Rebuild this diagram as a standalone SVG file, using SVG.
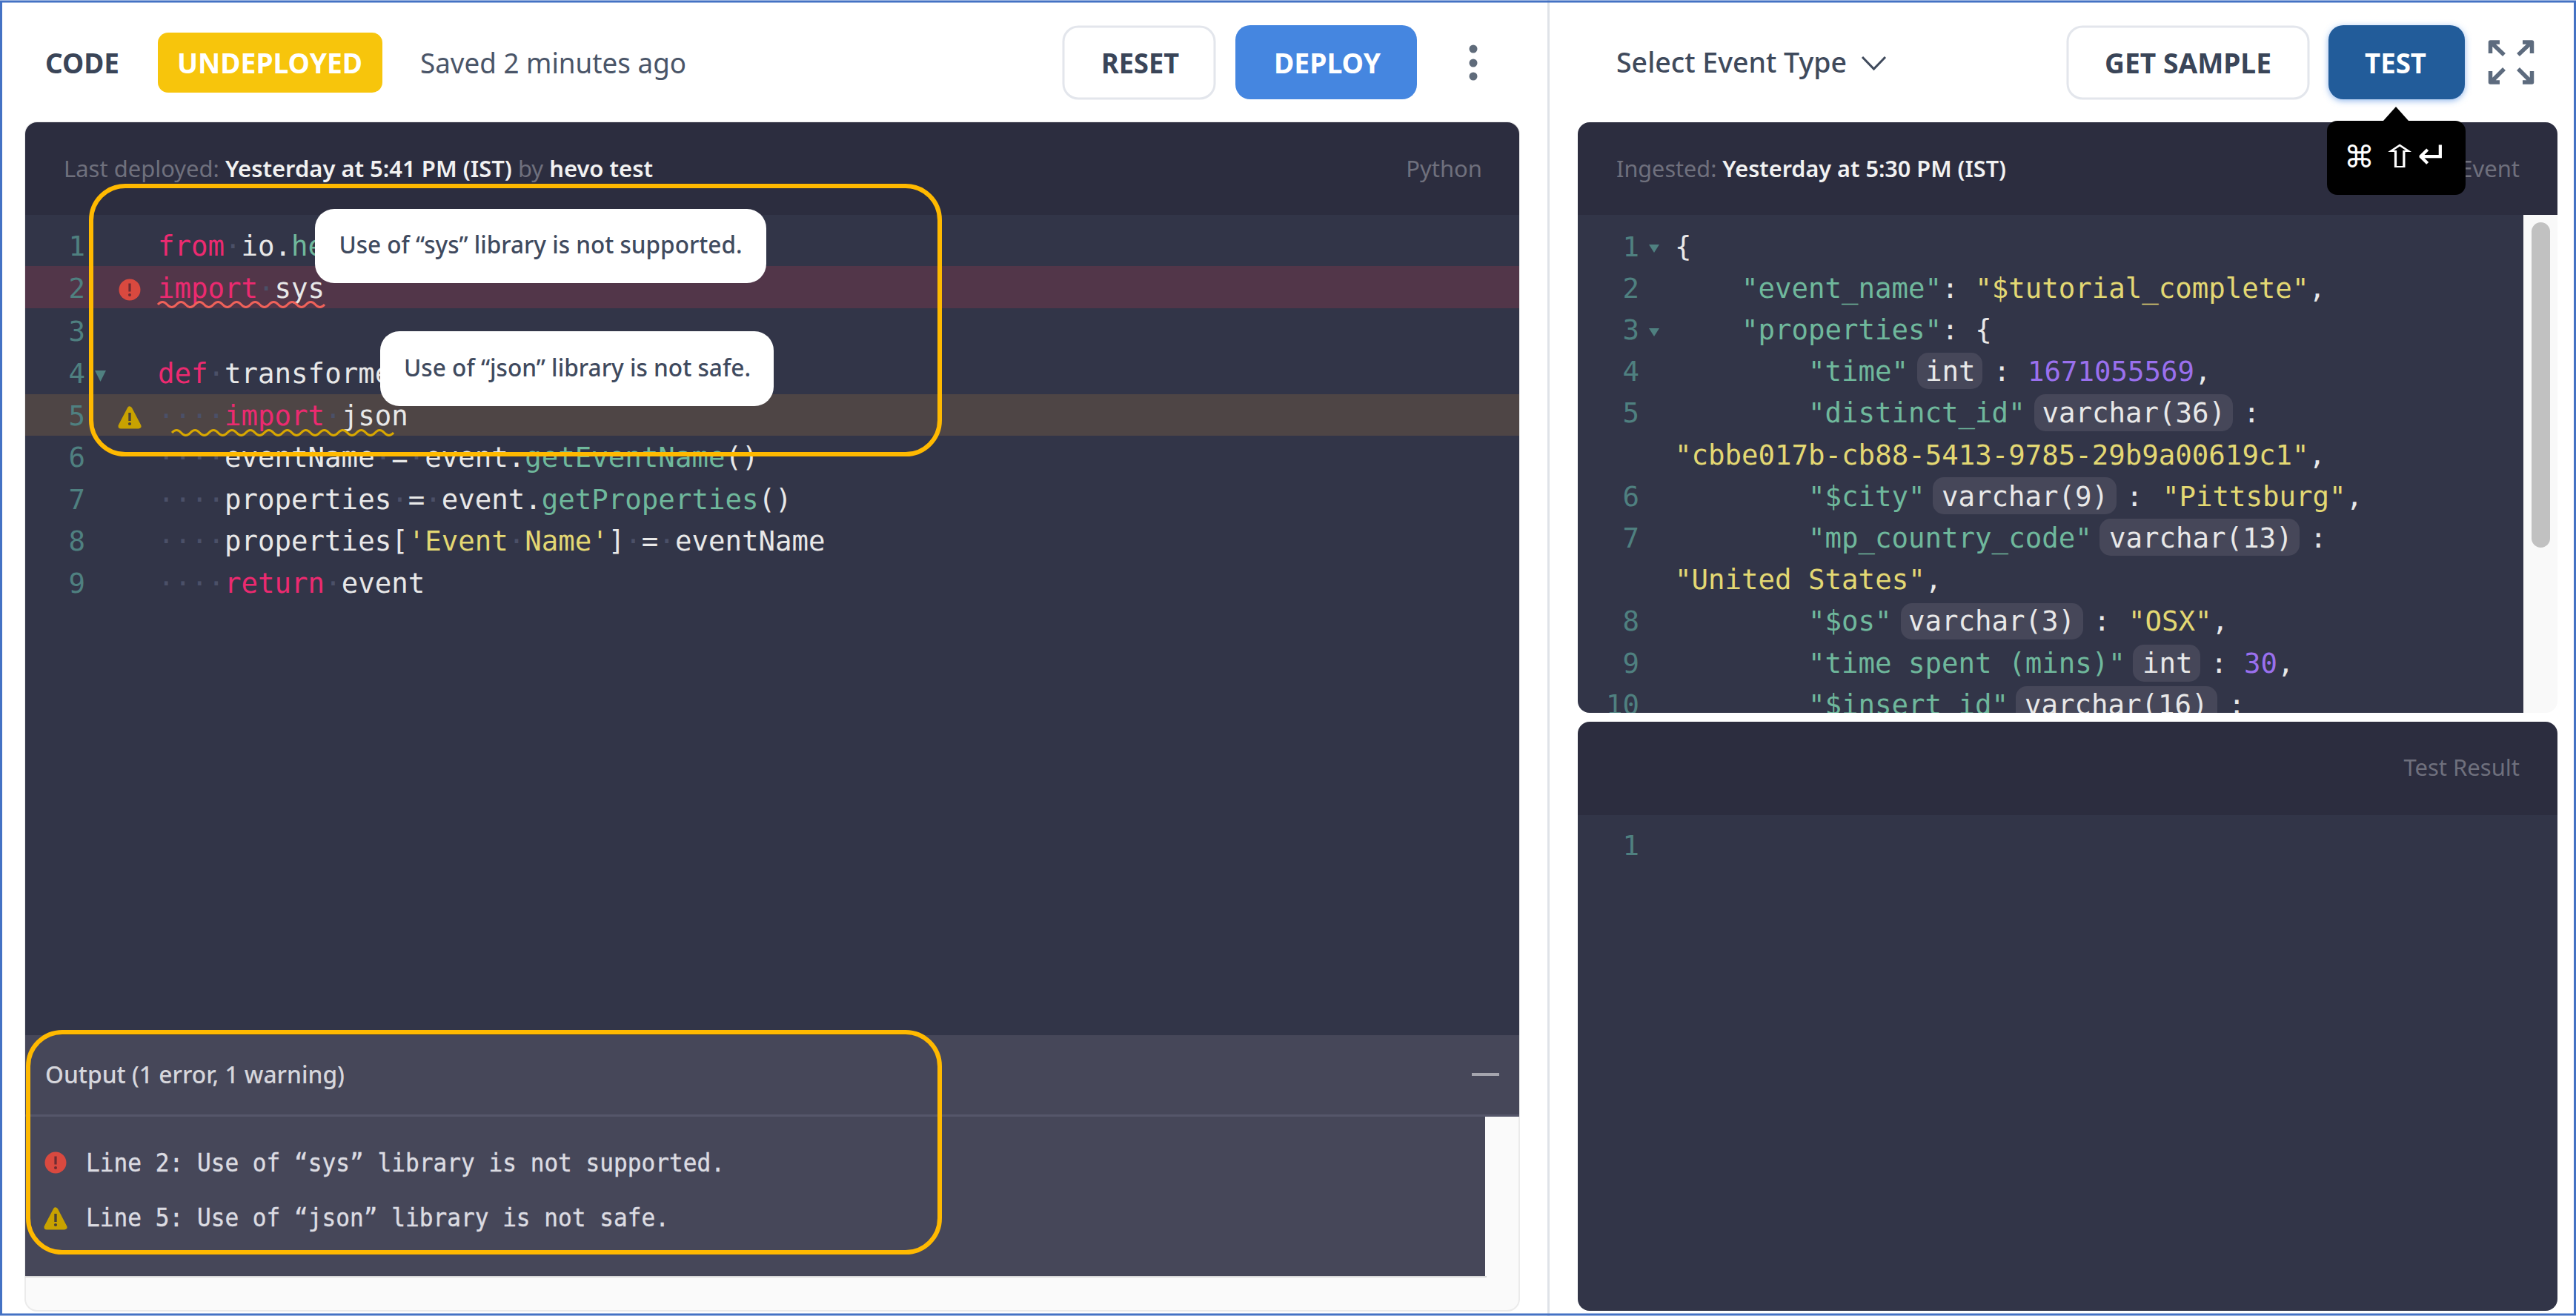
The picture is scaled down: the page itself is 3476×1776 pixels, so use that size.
<svg xmlns="http://www.w3.org/2000/svg" width="3476" height="1776" viewBox="0 0 3476 1776">
<style>
text{white-space:pre}
.s{font-family:"Noto Sans","Open Sans","Liberation Sans",sans-serif}
.m{font-family:"DejaVu Sans Mono","Liberation Mono",monospace;font-size:37.4px;fill:#e8e8e8}
.b{font-size:38px;font-weight:700}
.h{font-size:31px;fill:#6f707d}
.hw{font-size:31px;fill:#f2f2f2;font-weight:600}
.n{fill:#4f8080}
.k{fill:#ec2a70}
.g{fill:#6fb89c}
.y{fill:#e3d873}
.p{fill:#9a70ee}
.d{fill:#4b5068}
.pill{fill:#464759}
.tip{fill:#fff}
.tt{font-size:32px;font-weight:500;fill:#3f4a5e}
.box{fill:none;stroke:#ffb900;stroke-width:6}
.btn{fill:#fff;stroke:#e3e6ec;stroke-width:3}
.ol{font-family:"DejaVu Sans Mono","Liberation Mono",monospace;font-size:33px;fill:#dcdce2;stroke:#dcdce2;stroke-width:.4}
.ar{fill:none;stroke:#5d6b7e;stroke-width:5.500;stroke-linejoin:round}
</style>
<defs>
<g id="err"><circle r="14.5" fill="#d9493f"/><rect x="-1.6" y="-8.5" width="3.2" height="11" fill="#6e2c33"/><circle cy="7" r="2" fill="#6e2c33"/></g>
<g id="warn"><path d="M0 -12 L12 11 H-12 Z" fill="#c8a200" stroke="#c8a200" stroke-width="7" stroke-linejoin="round"/><rect x="-1.7" y="-7" width="3.4" height="11" fill="#4a4238"/><circle cy="8" r="2.1" fill="#4a4238"/></g>
<clipPath id="cu"><rect x="2129" y="165" width="1276" height="797"/></clipPath>
<filter id="gl" x="-20%" y="-20%" width="140%" height="150%"><feDropShadow dx="0" dy="2" stdDeviation="4" flood-color="#4a86e0" flood-opacity=".6"/></filter>
</defs>
<rect width="3476" height="1776" fill="#fff"/>
<rect x="2088" y="0" width="3" height="1776" fill="#dfe3e8"/>

<g id="left-toolbar">
<text class="s b" x="61" y="98.5" fill="#3a4558" textLength="100" lengthAdjust="spacingAndGlyphs">CODE</text>
<rect x="213" y="44" width="303" height="81" rx="14" fill="#f7c50c"/>
<text class="s b" x="239" y="98.5" fill="#fff" textLength="250" lengthAdjust="spacingAndGlyphs">UNDEPLOYED</text>
<text class="s" x="567" y="98.5" font-size="38" fill="#4a5568" textLength="359" lengthAdjust="spacingAndGlyphs">Saved 2 minutes ago</text>
<rect class="btn" x="1435" y="36" width="204" height="97" rx="20"/>
<text class="s b" x="1486" y="98.5" fill="#3a4558" textLength="105" lengthAdjust="spacingAndGlyphs">RESET</text>
<rect x="1667" y="34" width="245" height="100" rx="20" fill="#4586e0"/>
<text class="s b" x="1719" y="98.5" fill="#fff" textLength="144" lengthAdjust="spacingAndGlyphs">DEPLOY</text>
<circle cx="1988" cy="66" r="5.5" fill="#5f6b7a"/><circle cx="1988" cy="85" r="5.5" fill="#5f6b7a"/><circle cx="1988" cy="103" r="5.5" fill="#5f6b7a"/>
</g>

<g id="code-panel">
<rect x="34" y="165" width="2016" height="1604" rx="16" fill="#fafafa" stroke="#ebebeb" stroke-width="2"/>
<path d="M34 290V181a16 16 0 0 1 16-16H2034a16 16 0 0 1 16 16V290Z" fill="#2c2d3f"/>
<rect x="34" y="290" width="2016" height="1107" fill="#323548"/>
<rect x="34" y="359" width="2016" height="57" fill="#523649"/>
<rect x="34" y="532" width="2016" height="56" fill="#4e4545"/>
<text class="s h" x="86" y="239" textLength="795" lengthAdjust="spacingAndGlyphs">Last deployed: <tspan class="hw">Yesterday at 5:41 PM (IST)</tspan> by <tspan class="hw">hevo test</tspan></text>
<text class="s h" x="2000" y="239" text-anchor="end">Python</text>
<text class="m n" x="115" y="345" text-anchor="end">1</text>
<text class="m n" x="115" y="402" text-anchor="end">2</text>
<text class="m n" x="115" y="459.500" text-anchor="end">3</text>
<text class="m n" x="115" y="517" text-anchor="end">4</text>
<text class="m n" x="115" y="573.500" text-anchor="end">5</text>
<text class="m n" x="115" y="630" text-anchor="end">6</text>
<text class="m n" x="115" y="686.500" text-anchor="end">7</text>
<text class="m n" x="115" y="743" text-anchor="end">8</text>
<text class="m n" x="115" y="800" text-anchor="end">9</text>
<path d="M128 500H143L135.500 515Z" fill="#4f8080"/>
<use href="#err" x="175" y="391"/>
<use href="#warn" x="175" y="564"/>
<text class="m" x="213" y="345"><tspan class="k">from</tspan><tspan class="d">·</tspan>io.<tspan class="g">he</tspan></text>
<text class="m" x="213" y="402"><tspan class="k">import</tspan><tspan class="d">·</tspan>sys</text>
<path d="M213 411q6.250-7 12.500 0t12.500 0t12.500 0t12.500 0t12.500 0t12.500 0t12.500 0t12.500 0t12.500 0t12.500 0t12.500 0t12.500 0t12.500 0t12.500 0t12.500 0t12.500 0t12.500 0t12.500 0" fill="none" stroke="#f0625a" stroke-width="3"/>
<text class="m" x="213" y="517"><tspan class="k">def</tspan><tspan class="d">·</tspan>transforme</text>
<text class="m" x="213" y="573.500"><tspan class="d">····</tspan><tspan class="k">import</tspan><tspan class="d">·</tspan>json</text>
<path d="M232 584q6.230-7 12.460 0t12.460 0t12.460 0t12.460 0t12.460 0t12.460 0t12.460 0t12.460 0t12.460 0t12.460 0t12.460 0t12.460 0t12.460 0t12.460 0t12.460 0t12.460 0t12.460 0t12.460 0t12.460 0t12.460 0t12.460 0t12.460 0t12.460 0t12.460 0" fill="none" stroke="#d9a800" stroke-width="3"/>
<text class="m" x="213" y="630"><tspan class="d">····</tspan>eventName<tspan class="d">·</tspan>=<tspan class="d">·</tspan>event.<tspan class="g">getEventName</tspan>()</text>
<text class="m" x="213" y="686.500"><tspan class="d">····</tspan>properties<tspan class="d">·</tspan>=<tspan class="d">·</tspan>event.<tspan class="g">getProperties</tspan>()</text>
<text class="m" x="213" y="743"><tspan class="d">····</tspan>properties[<tspan class="y">'Event<tspan class="d">·</tspan>Name'</tspan>]<tspan class="d">·</tspan>=<tspan class="d">·</tspan>eventName</text>
<text class="m" x="213" y="800"><tspan class="d">····</tspan><tspan class="k">return</tspan><tspan class="d">·</tspan>event</text>
</g>

<g id="tooltip-sys">
<rect class="tip" x="425" y="282" width="609" height="100" rx="26"/>
<text class="s tt" x="457.500" y="342" textLength="544" lengthAdjust="spacingAndGlyphs">Use of “sys” library is not supported.</text>
</g>
<g id="tooltip-json">
<rect class="tip" x="513" y="447" width="531" height="101" rx="26"/>
<text class="s tt" x="545" y="508" textLength="468" lengthAdjust="spacingAndGlyphs">Use of “json” library is not safe.</text>
</g>

<g id="output-panel">
<rect x="34" y="1397" width="2016" height="110" fill="#464759"/>
<rect x="34" y="1507" width="1970" height="215" fill="#464759"/>
<rect x="34" y="1504" width="2016" height="3" fill="#55566a"/>
<rect x="34" y="1722" width="1972" height="2" fill="#d8d8d8"/>
<text class="s" x="61" y="1462" font-size="32" font-weight="500" fill="#d6d6dc" textLength="404" lengthAdjust="spacingAndGlyphs">Output (1 error, 1 warning)</text>
<rect x="1986" y="1448" width="37" height="4" fill="#a5a5ae"/>
<use href="#err" x="75" y="1569"/>
<use href="#warn" x="75" y="1645"/>
<text class="ol" x="116" y="1581" textLength="862" lengthAdjust="spacingAndGlyphs">Line 2: Use of “sys” library is not supported.</text>
<text class="ol" x="116" y="1655" textLength="787" lengthAdjust="spacingAndGlyphs">Line 5: Use of “json” library is not safe.</text>
</g>

<g id="highlight-boxes">
<rect class="box" x="123" y="251" width="1145" height="362" rx="46"/>
<rect class="box" x="38" y="1393" width="1230" height="297" rx="46"/>
</g>

<g id="right-toolbar">
<text class="s" x="2181" y="97.500" font-size="38" font-weight="500" fill="#3f4a5c" textLength="311" lengthAdjust="spacingAndGlyphs">Select Event Type</text>
<path d="M2513 77L2528.500 93L2544 77" fill="none" stroke="#3f4a5c" stroke-width="3"/>
<rect class="btn" x="2790" y="36" width="325" height="97" rx="20"/>
<text class="s b" x="2840" y="98.500" fill="#3a4558" textLength="225" lengthAdjust="spacingAndGlyphs">GET SAMPLE</text>
<rect x="3142" y="34" width="184" height="100" rx="20" fill="#215b9a" filter="url(#gl)"/>
<text class="s b" x="3191" y="98.500" fill="#fff" textLength="83" lengthAdjust="spacingAndGlyphs">TEST</text>
<path class="ar" d="M3360.500 72V57H3373M3361 57L3379 74M3416.500 72V57H3404M3416 57L3398 74M3360.500 96V111H3373M3361 111L3379 93M3416.500 96V111H3404M3416 111L3398 93"/>
</g>

<g id="ingested-panel">
<path d="M2129 946V181a16 16 0 0 1 16-16H3435a16 16 0 0 1 16 16V946a16 16 0 0 1-16 16H2145a16 16 0 0 1-16-16Z" fill="#f9f9f9"/>
<path d="M2129 290V181a16 16 0 0 1 16-16H3435a16 16 0 0 1 16 16V290Z" fill="#2c2d3f"/>
<path d="M2129 290H3405V962H2145a16 16 0 0 1-16-16Z" fill="#323548"/>
<rect x="3416" y="300" width="25" height="439" rx="12.500" fill="#c1c1c1"/>
<text class="s h" x="2181" y="239" textLength="526" lengthAdjust="spacingAndGlyphs">Ingested: <tspan class="hw">Yesterday at 5:30 PM (IST)</tspan></text>
<text class="s h" x="3400" y="239" text-anchor="end">Event</text>
<g clip-path="url(#cu)">
<text class="m n" x="2212" y="345.500" text-anchor="end">1</text>
<text class="m n" x="2212" y="401.700" text-anchor="end">2</text>
<text class="m n" x="2212" y="457.900" text-anchor="end">3</text>
<text class="m n" x="2212" y="514.100" text-anchor="end">4</text>
<text class="m n" x="2212" y="570.300" text-anchor="end">5</text>
<text class="m n" x="2212" y="682.700" text-anchor="end">6</text>
<text class="m n" x="2212" y="738.900" text-anchor="end">7</text>
<text class="m n" x="2212" y="851.300" text-anchor="end">8</text>
<text class="m n" x="2212" y="907.500" text-anchor="end">9</text>
<text class="m n" x="2212" y="963.700" text-anchor="end">10</text>
<path d="M2225 330H2239L2232 341Z" fill="#4f8080"/>
<path d="M2225 443H2239L2232 454Z" fill="#4f8080"/>
<text class="m" x="2260" y="345.500">{</text>
<text class="m" x="2350" y="401.700"><tspan class="g">"event_name"</tspan>: <tspan class="y">"$tutorial_complete"</tspan>,</text>
<text class="m" x="2350" y="457.900"><tspan class="g">"properties"</tspan>: {</text>
<rect class="pill" x="2587" y="476" width="88" height="49" rx="15"/>
<text class="m g" x="2440" y="514.100">"time"</text>
<text class="m" x="2598" y="514.100">int</text>
<text class="m" x="2690" y="514.100">:</text>
<text class="m p" x="2736" y="514.100">1671055569<tspan fill="#e8e8e8">,</tspan></text>
<rect class="pill" x="2745" y="532" width="268" height="50" rx="15"/>
<text class="m g" x="2440" y="570.300">"distinct_id"</text>
<text class="m" x="2755.500" y="570.300">varchar(36)</text>
<text class="m" x="3027" y="570.300">:</text>
<text class="m y" x="2260" y="626.500">"cbbe017b-cb88-5413-9785-29b9a00619c1"<tspan fill="#e8e8e8">,</tspan></text>
<rect class="pill" x="2608" y="644" width="248" height="50" rx="15"/>
<text class="m g" x="2440" y="682.700">"$city"</text>
<text class="m" x="2620" y="682.700">varchar(9)</text>
<text class="m" x="2869" y="682.700">:</text>
<text class="m y" x="2918" y="682.700">"Pittsburg"<tspan fill="#e8e8e8">,</tspan></text>
<rect class="pill" x="2833" y="700" width="270" height="50" rx="15"/>
<text class="m g" x="2440" y="738.900">"mp_country_code"</text>
<text class="m" x="2846" y="738.900">varchar(13)</text>
<text class="m" x="3117" y="738.900">:</text>
<text class="m y" x="2260" y="795.100">"United States"<tspan fill="#e8e8e8">,</tspan></text>
<rect class="pill" x="2565" y="814" width="246" height="49" rx="15"/>
<text class="m g" x="2440" y="851.300">"$os"</text>
<text class="m" x="2575" y="851.300">varchar(3)</text>
<text class="m" x="2825" y="851.300">:</text>
<text class="m y" x="2872" y="851.300">"OSX"<tspan fill="#e8e8e8">,</tspan></text>
<rect class="pill" x="2878" y="870" width="91" height="50" rx="15"/>
<text class="m g" x="2440" y="907.500">"time spent (mins)"</text>
<text class="m" x="2891" y="907.500">int</text>
<text class="m" x="2983" y="907.500">:</text>
<text class="m p" x="3028" y="907.500">30<tspan fill="#e8e8e8">,</tspan></text>
<rect class="pill" x="2720" y="926" width="272" height="50" rx="15"/>
<text class="m g" x="2440" y="963.700">"$insert_id"</text>
<text class="m" x="2732" y="963.700">varchar(16)</text>
<text class="m" x="3007" y="963.700">:</text>
</g>
</g>

<g id="shortcut-tooltip">
<path d="M3233 144L3250 163H3313a14 14 0 0 1 14 14V249a14 14 0 0 1-14 14H3154a14 14 0 0 1-14-14V177a14 14 0 0 1 14-14H3216Z" fill="#000"/>
<g font-family="'DejaVu Sans',sans-serif" fill="#fff">
<text x="3163" y="226" font-size="41">⌘</text>
<text transform="translate(3211 226) scale(1.7 1.1)" font-size="38">⇧</text>
<text x="3262" y="227" font-size="50">↵</text>
</g>
</g>

<g id="result-panel">
<path d="M2129 1100V990a16 16 0 0 1 16-16H3435a16 16 0 0 1 16 16V1100Z" fill="#2c2d3f"/>
<path d="M2129 1100H3451V1753a16 16 0 0 1-16 16H2145a16 16 0 0 1-16-16Z" fill="#323548"/>
<text class="s h" x="3400" y="1047" text-anchor="end">Test Result</text>
<text class="m n" x="2212" y="1154" text-anchor="end">1</text>
</g>

<rect id="frame" x="1.500" y="2" width="3473" height="1772" fill="none" stroke="#4472c4" stroke-width="3"/>
</svg>
